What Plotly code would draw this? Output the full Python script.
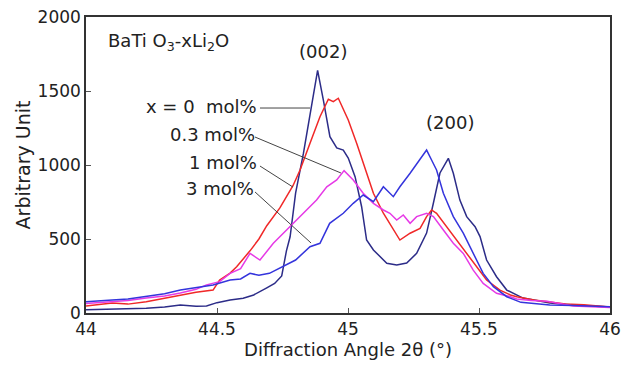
import plotly.graph_objects as go

# x = 0 mol%
x0_x = [44.00, 44.10, 44.23, 44.30, 44.36, 44.42, 44.46, 44.50, 44.55, 44.60, 44.64, 44.69, 44.72, 44.747, 44.765, 44.779, 44.80, 44.83, 44.859, 44.884, 44.906, 44.931, 44.957, 44.982, 45.001, 45.027, 45.052, 45.071, 45.097, 45.122, 45.148, 45.186, 45.224, 45.262, 45.30, 45.326, 45.351, 45.383, 45.402, 45.427, 45.453, 45.485, 45.504, 45.529, 45.567, 45.606, 45.63, 45.668, 45.72, 45.77, 45.86, 45.92, 46.00]
x0_y = [22, 25, 32, 40, 54, 45, 47, 70, 88, 100, 122, 170, 200, 250, 420, 515, 810, 1080, 1394, 1640, 1439, 1191, 1115, 1101, 1047, 921, 718, 493, 426, 380, 336, 324, 338, 403, 540, 743, 946, 1045, 944, 763, 651, 583, 516, 358, 245, 155, 135, 101, 85, 68, 54, 48, 40]

# 0.3 mol%
x03_x = [44.00, 44.05, 44.10, 44.16, 44.23, 44.30, 44.36, 44.42, 44.485, 44.51, 44.55, 44.575, 44.626, 44.66, 44.69, 44.74, 44.79, 44.817, 44.855, 44.893, 44.925, 44.944, 44.963, 44.982, 45.001, 45.033, 45.058, 45.097, 45.135, 45.173, 45.198, 45.237, 45.275, 45.30, 45.319, 45.338, 45.376, 45.415, 45.453, 45.491, 45.529, 45.58, 45.62, 45.644, 45.71, 45.77, 45.83, 45.90, 45.97, 46.00]
x03_y = [47, 55, 68, 60, 76, 100, 122, 140, 155, 223, 270, 313, 420, 500, 590, 710, 860, 966, 1147, 1326, 1444, 1428, 1451, 1372, 1304, 1147, 1011, 809, 674, 561, 493, 539, 572, 651, 696, 674, 583, 493, 403, 313, 223, 155, 122, 110, 88, 75, 61, 55, 43, 40]

# 1 mol%
x1_x = [44.00, 44.05, 44.10, 44.16, 44.23, 44.30, 44.36, 44.42, 44.46, 44.51, 44.55, 44.59, 44.626, 44.664, 44.715, 44.779, 44.829, 44.88, 44.919, 44.957, 44.985, 45.02, 45.058, 45.097, 45.135, 45.16, 45.186, 45.211, 45.237, 45.262, 45.30, 45.326, 45.364, 45.402, 45.44, 45.478, 45.516, 45.567, 45.62, 45.644, 45.70, 45.76, 45.86, 45.92, 46.00]
x1_y = [65, 70, 76, 85, 101, 115, 135, 160, 190, 212, 268, 300, 403, 358, 471, 583, 674, 763, 853, 899, 962, 899, 809, 741, 696, 674, 628, 662, 606, 651, 674, 651, 561, 471, 403, 290, 200, 133, 110, 95, 85, 80, 47, 45, 38]

# 3 mol%
x3_x = [44.00, 44.05, 44.10, 44.16, 44.23, 44.30, 44.36, 44.42, 44.485, 44.55, 44.59, 44.626, 44.66, 44.70, 44.753, 44.80, 44.855, 44.893, 44.93, 44.982, 45.02, 45.058, 45.097, 45.135, 45.173, 45.198, 45.237, 45.275, 45.30, 45.319, 45.338, 45.364, 45.402, 45.44, 45.478, 45.516, 45.555, 45.606, 45.66, 45.72, 45.77, 45.86, 45.97, 46.00]
x3_y = [76, 80, 88, 95, 110, 130, 155, 170, 189, 223, 230, 268, 255, 268, 313, 358, 448, 471, 606, 674, 741, 797, 752, 853, 786, 853, 944, 1034, 1101, 1034, 966, 809, 651, 539, 403, 268, 178, 110, 72, 60, 54, 50, 45, 42]

series_names = ["x = 0  mol%", "0.3 mol%", "1 mol%", "3 mol%"]
series_colors = ["#2c2c88", "#f02828", "#e63ae6", "#3434dc"]

x_ticks = [44, 44.5, 45, 45.5, 46]
x_tick_labels = ["44", "44.5", "45", "45.5", "46"]
y_ticks = [0, 500, 1000, 1500, 2000]

FONT = "DejaVu Sans, Liberation Sans, Arial, sans-serif"
TXT = "#222222"

fig = go.Figure()
for xs, ys, name, col in zip([x0_x, x03_x, x1_x, x3_x], [x0_y, x03_y, x1_y, x3_y], series_names, series_colors):
    fig.add_trace(go.Scatter(x=xs, y=ys, mode="lines", name=name,
                             line=dict(color=col, width=1.5), showlegend=False))

# labels with leader lines
labels = [
    (series_names[0], 44.652, 1392, 44.664, 1385, 44.855, 1385),
    (series_names[1], 44.646, 1203, 44.645, 1189, 44.973, 946),
    (series_names[2], 44.652, 1014, 44.664, 993, 44.790, 851),
    (series_names[3], 44.642, 838, 44.645, 818, 44.859, 473),
]
for txt, tx, ty, lx0, ly0, lx1, ly1 in labels:
    fig.add_annotation(x=tx, y=ty, text=txt, showarrow=False, xanchor="right", yanchor="middle",
                       xshift=2, font=dict(family=FONT, size=18, color=TXT))
    fig.add_shape(type="line", x0=lx0, y0=ly0, x1=lx1, y1=ly1, line=dict(color="#444444", width=1))

fig.add_annotation(x=44.905, y=1764, text="(002)", showarrow=False, xanchor="center", yanchor="middle",
                   font=dict(family=FONT, size=18, color=TXT))
fig.add_annotation(x=45.389, y=1284, text="(200)", showarrow=False, xanchor="center", yanchor="middle",
                   font=dict(family=FONT, size=18, color=TXT))
fig.add_annotation(x=44.078, y=1831, text="BaTi O<sub>3</sub>-xLi<sub>2</sub>O", showarrow=False,
                   xanchor="left", yanchor="middle", font=dict(family=FONT, size=18, color=TXT))

fig.update_layout(
    width=629, height=370,
    margin=dict(l=86, r=19, t=17, b=57, autoexpand=False),
    paper_bgcolor="white", plot_bgcolor="white",
    font=dict(family=FONT, size=17, color=TXT),
)
fig.update_xaxes(range=[44, 46], tickvals=x_ticks, ticktext=x_tick_labels, ticks="inside", ticklen=5,
                 tickcolor="#555", showline=True, linecolor="#333", linewidth=1.5, mirror=True,
                 showgrid=False, zeroline=False, automargin=False,
                 title=dict(text="Diffraction Angle 2θ (°)", font=dict(size=18), standoff=0),
                 tickfont=dict(size=17))
fig.update_yaxes(range=[0, 2000], tickvals=y_ticks, ticks="inside", ticklen=5,
                 tickcolor="#555", showline=True, linecolor="#333", linewidth=1.5, mirror=True,
                 showgrid=False, zeroline=False, automargin=False,
                 title=dict(text="Arbitrary Unit", font=dict(size=19), standoff=2),
                 tickfont=dict(size=17))

fig.write_html("out.html", config={"displayModeBar": False},
               post_script="document.body.style.margin='0px';")
